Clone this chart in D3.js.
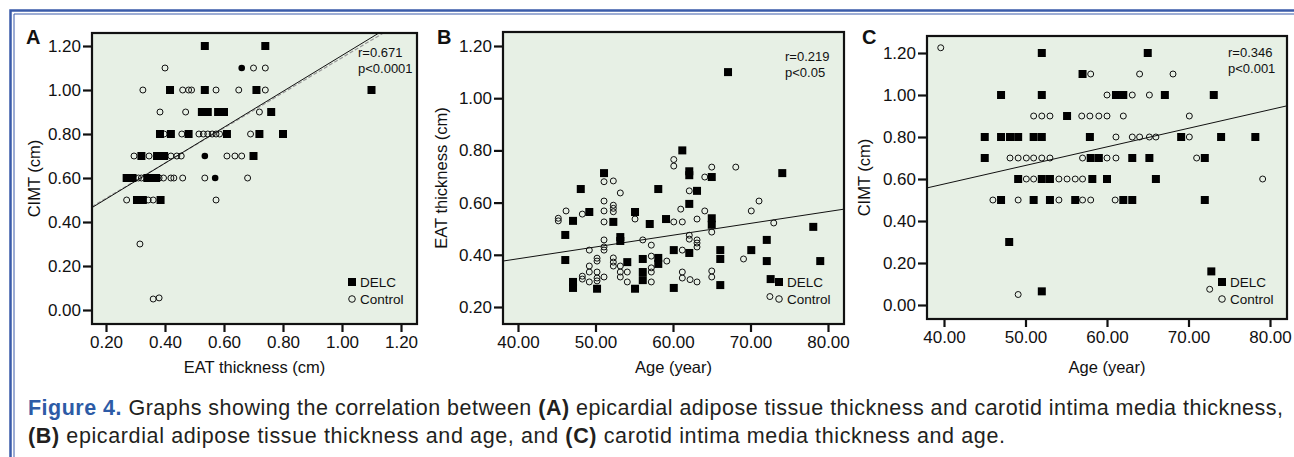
<!DOCTYPE html>
<html>
<head>
<meta charset="utf-8">
<script src="https://cdn.jsdelivr.net/npm/d3@7/dist/d3.min.js"></script>
<style>
  body { margin: 0; background: #fff; }
  svg { display: block; font-family: 'Liberation Sans', Arial, Helvetica, sans-serif; }
</style>
</head>
<body>
<svg id="chart" width="1294" height="457"></svg>
<script>
// ---- panel A : EAT thickness (x) vs CIMT (y)
let aDelc = [[0.535,1.2],[0.74,1.2],[0.417,1.0],[0.535,1.0],[0.71,1.0],[1.10,1.0],
  [0.525,0.9],[0.545,0.9],[0.58,0.9],[0.60,0.9],[0.76,0.9],
  [0.383,0.8],[0.42,0.8],[0.48,0.8],[0.61,0.8],[0.72,0.8],[0.80,0.8],
  [0.32,0.7],[0.373,0.7],[0.397,0.7],[0.70,0.7],
  [0.27,0.6],[0.29,0.6],[0.34,0.6],[0.355,0.6],[0.37,0.6],
  [0.305,0.5],[0.325,0.5],[0.385,0.5]]
let aControl = [[0.40,1.1],[0.70,1.1],[0.74,1.1],
  [0.325,1.0],[0.46,1.0],[0.48,1.0],[0.49,1.0],[0.573,1.0],[0.65,1.0],[0.74,1.0],
  [0.383,0.9],[0.47,0.9],[0.72,0.9],
  [0.397,0.8],[0.457,0.8],[0.515,0.8],[0.53,0.8],[0.545,0.8],[0.56,0.8],[0.573,0.8],[0.585,0.8],[0.69,0.8],
  [0.295,0.7],[0.346,0.7],[0.42,0.7],[0.44,0.7],[0.455,0.7],[0.61,0.7],[0.637,0.7],[0.66,0.7],
  [0.31,0.6],[0.32,0.6],[0.38,0.6],[0.395,0.6],[0.42,0.6],[0.43,0.6],[0.46,0.6],[0.535,0.6],[0.68,0.6],
  [0.27,0.5],[0.343,0.5],[0.36,0.5],[0.573,0.5],
  [0.315,0.3],[0.36,0.05],[0.38,0.055]]
let aBoth = [[0.66,1.1],[0.535,0.7],[0.57,0.6]]
let aFit = [0.341, 0.816]
let aFitDashed = [0.348, 0.799]
let aXTicks = [0.2, 0.4, 0.6, 0.8, 1.0, 1.2]
let aYTicks = [0.0, 0.2, 0.4, 0.6, 0.8, 1.0, 1.2]
let aStats = ['r=0.671', 'p<0.0001']

// ---- panel B : age (x) vs EAT thickness (y)
let bDelc = [[67.1,1.10],[61.2,0.80],[51.1,0.713],[62.1,0.72],[62.1,0.705],[65.0,0.698],[74.1,0.713],
  [48.1,0.652],[58.1,0.652],[63.1,0.645],[62.1,0.595],[49.2,0.564],[55.1,0.564],[47.1,0.53],
  [52.3,0.526],[57.0,0.518],[59.1,0.537],[65.0,0.54],[65.0,0.515],[78.1,0.507],[46.1,0.476],
  [72.1,0.457],[53.2,0.468],[53.2,0.453],[62.1,0.407],[60.1,0.418],[66.1,0.418],[70.1,0.418],
  [46.1,0.38],[54.1,0.372],[56.1,0.384],[58.1,0.388],[58.1,0.365],[66.1,0.384],[72.1,0.376],
  [79.0,0.376],[56.1,0.334],[56.1,0.303],[47.1,0.296],[47.1,0.273],[50.2,0.27],[55.1,0.27],
  [60.1,0.273],[66.1,0.284],[72.6,0.307]]
let bControl = [[60.1,0.765],[60.1,0.74],[65.0,0.736],[68.1,0.736],[51.1,0.68],[52.3,0.683],[53.2,0.637],
  [64.1,0.698],[62.1,0.645],[71.1,0.606],[51.1,0.606],[52.3,0.59],[52.3,0.578],[52.3,0.565],
  [46.2,0.568],[48.3,0.556],[51.1,0.568],[61.0,0.575],[64.1,0.568],[70.1,0.568],[45.2,0.54],
  [45.2,0.53],[51.1,0.526],[55.1,0.537],[60.1,0.526],[61.2,0.526],[63.1,0.537],[65.0,0.487],
  [73.0,0.522],[51.1,0.457],[56.1,0.457],[57.2,0.437],[62.1,0.475],[62.1,0.46],[63.1,0.457],
  [63.1,0.445],[63.1,0.43],[49.2,0.418],[51.1,0.43],[51.1,0.418],[61.2,0.418],[50.2,0.387],
  [50.2,0.376],[52.3,0.388],[52.3,0.372],[52.3,0.357],[53.2,0.357],[57.2,0.395],[59.2,0.376],
  [69.1,0.384],[49.2,0.357],[49.2,0.334],[50.2,0.334],[53.2,0.334],[54.1,0.334],[57.2,0.35],
  [57.2,0.334],[61.2,0.334],[65.0,0.338],[48.3,0.318],[48.3,0.307],[49.2,0.296],[50.2,0.311],
  [50.2,0.30],[51.1,0.315],[53.2,0.315],[54.1,0.296],[57.2,0.296],[61.2,0.311],[62.2,0.305],
  [63.1,0.296],[65.0,0.315],[72.5,0.24]]
let bFit = [0.204, 0.00452]
let bXTicks = [40, 50, 60, 70, 80]
let bYTicks = [0.2, 0.4, 0.6, 0.8, 1.0, 1.2]
let bStats = ['r=0.219', 'p<0.05']

// ---- panel C : age (x) vs CIMT (y)
let cDelc = [[52.0,1.2],[65.0,1.2],[57.0,1.1],[47.0,1.0],[52.0,1.0],[61.1,1.0],[62.0,1.0],[67.1,1.0],
  [73.1,1.0],[55.1,0.9],[45.0,0.8],[47.0,0.8],[48.1,0.8],[49.1,0.8],[51.0,0.8],[52.0,0.8],
  [57.9,0.8],[69.1,0.8],[74.0,0.8],[78.2,0.8],[45.0,0.7],[58.0,0.7],[59.0,0.7],[63.1,0.7],
  [65.2,0.7],[72.0,0.7],[49.1,0.6],[52.0,0.6],[53.0,0.6],[58.2,0.6],[60.0,0.6],[66.0,0.6],
  [47.0,0.5],[51.0,0.5],[53.0,0.5],[56.1,0.5],[62.0,0.5],[63.1,0.5],[72.0,0.5],[48.0,0.3],
  [72.8,0.16],[52.0,0.065]]
let cControl = [[39.6,1.225],[58.0,1.1],[64.0,1.1],[68.1,1.1],[60.0,1.0],[63.1,1.0],[65.2,1.0],
  [51.0,0.9],[52.0,0.9],[53.0,0.9],[56.9,0.9],[57.9,0.9],[59.0,0.9],[60.0,0.9],[62.0,0.9],
  [70.1,0.9],[61.1,0.8],[63.1,0.8],[64.0,0.8],[65.2,0.8],[66.0,0.8],[70.1,0.8],[48.1,0.7],
  [49.1,0.7],[50.1,0.7],[51.0,0.7],[52.0,0.7],[53.0,0.7],[57.0,0.7],[60.0,0.7],[61.1,0.7],
  [71.0,0.7],[50.1,0.6],[51.0,0.6],[54.1,0.6],[55.1,0.6],[56.1,0.6],[57.0,0.6],[79.1,0.6],
  [46.0,0.5],[49.1,0.5],[54.1,0.5],[57.0,0.5],[58.0,0.5],[61.0,0.5],[72.6,0.075],[49.1,0.05]]
let cFit = [0.222, 0.00885]
let cXTicks = [40, 50, 60, 70, 80]
let cYTicks = [0.0, 0.2, 0.4, 0.6, 0.8, 1.0, 1.2]
let cStats = ['r=0.346', 'p<0.001']

let legendLabels = ['DELC', 'Control']

let svg = d3.select('#chart')
let fmt = d3.format('.2f')

// figure frame (double blue rule, top and left)
let frameColor = '#3a5ba9'
svg.append('path').attr('d', 'M10.5,457 V10.5 H1294').attr('fill', 'none')
  .attr('stroke', frameColor).attr('stroke-width', 2.5)
svg.append('path').attr('d', 'M14,457 V14 H1294').attr('fill', 'none')
  .attr('stroke', frameColor).attr('stroke-width', 1)

let panels = [
  { letter: 'A', box: [92, 33, 417, 324], xDom: [0.2, 1.2], xRng: [106, 401], yDom: [0, 1.2], yRng: [310, 46],
    xTicks: aXTicks, yTicks: aYTicks, delc: aDelc, control: aControl, both: aBoth,
    fits: [{ c: aFitDashed, dashed: true }, { c: aFit }], stats: aStats, statsY: 52,
    xTitle: 'EAT thickness (cm)', yTitle: 'CIMT (cm)', yTitleX: 34, letterX: 26 },
  { letter: 'B', box: [503, 32, 844, 324], xDom: [40, 80], xRng: [518, 828], yDom: [0.2, 1.2], yRng: [307, 46],
    xTicks: bXTicks, yTicks: bYTicks, delc: bDelc, control: bControl, both: [],
    fits: [{ c: bFit }], stats: bStats, statsY: 56,
    xTitle: 'Age (year)', yTitle: 'EAT thickness (cm)', yTitleX: 441, letterX: 437 },
  { letter: 'C', box: [927, 36, 1287, 319], xDom: [40, 80], xRng: [944, 1270], yDom: [0, 1.2], yRng: [305, 53],
    xTicks: cXTicks, yTicks: cYTicks, delc: cDelc, control: cControl, both: [],
    fits: [{ c: cFit }], stats: cStats, statsY: 52,
    xTitle: 'Age (year)', yTitle: 'CIMT (cm)', yTitleX: 864, letterX: 862 }
]

let drawPanel = (p) => {
  let [l, t, r, b] = p.box
  let xScale = d3.scaleLinear().domain(p.xDom).range(p.xRng)
  let yScale = d3.scaleLinear().domain(p.yDom).range(p.yRng)
  let g = svg.append('g')

  g.append('rect').attr('x', l).attr('y', t).attr('width', r - l).attr('height', b - t)
    .attr('fill', '#e7f0e5')

  svg.append('clipPath').attr('id', 'clip' + p.letter)
    .append('rect').attr('x', l).attr('y', t).attr('width', r - l).attr('height', b - t)

  let inner = g.append('g').attr('clip-path', 'url(#clip' + p.letter + ')')

  // fit lines
  let x0 = xScale.invert(l), x1 = xScale.invert(r)
  p.fits.forEach((f) => {
    inner.append('line')
      .attr('x1', xScale(x0)).attr('y1', yScale(f.c[0] + f.c[1] * x0))
      .attr('x2', xScale(x1)).attr('y2', yScale(f.c[0] + f.c[1] * x1))
      .attr('stroke', f.dashed ? '#999' : '#111')
      .attr('stroke-width', f.dashed ? 1.2 : 1)
      .attr('stroke-dasharray', f.dashed ? '4,2' : null)
  })

  // control : open circles
  inner.selectAll('circle.control').data(p.control).enter()
    .append('circle').attr('class', 'control')
    .attr('cx', (d) => xScale(d[0])).attr('cy', (d) => yScale(d[1]))
    .attr('r', 3).attr('fill', 'none').attr('stroke', '#111').attr('stroke-width', 1)

  // DELC : filled squares
  inner.selectAll('rect.delc').data(p.delc).enter()
    .append('rect').attr('class', 'delc')
    .attr('x', (d) => xScale(d[0]) - 4).attr('y', (d) => yScale(d[1]) - 4)
    .attr('width', 8).attr('height', 8).attr('fill', '#000')

  // overlapping markers
  inner.selectAll('circle.both').data(p.both).enter()
    .append('circle').attr('class', 'both')
    .attr('cx', (d) => xScale(d[0])).attr('cy', (d) => yScale(d[1]))
    .attr('r', 3.3).attr('fill', '#000')

  g.append('rect').attr('x', l).attr('y', t).attr('width', r - l).attr('height', b - t)
    .attr('fill', 'none').attr('stroke', '#111').attr('stroke-width', 2.2)

  // axes
  let yAxis = d3.axisLeft(yScale).tickValues(p.yTicks).tickFormat(fmt).tickSize(9).tickPadding(2)
  let xAxis = d3.axisBottom(xScale).tickValues(p.xTicks).tickFormat(fmt).tickSize(7).tickPadding(4)

  let ya = g.append('g').attr('transform', 'translate(' + l + ',0)').call(yAxis)
  let xa = g.append('g').attr('transform', 'translate(0,' + (b + 1) + ')').call(xAxis)
  ;[ya, xa].forEach((a) => {
    a.select('.domain').remove()
    a.selectAll('line').attr('stroke', '#111').attr('stroke-width', 2.2)
    a.selectAll('text').attr('fill', '#111').style('font-size', '17px')
      .style('font-family', "'Liberation Sans', Arial, sans-serif")
  })

  // titles
  g.append('text').attr('x', (l + r) / 2).attr('y', 373).attr('text-anchor', 'middle')
    .style('font-size', '16.5px').attr('fill', '#111').text(p.xTitle)
  g.append('text').attr('transform', 'translate(' + (p.yTitleX + 6) + ',' + ((t + b) / 2) + ') rotate(-90)')
    .attr('text-anchor', 'middle').style('font-size', '16.5px').attr('fill', '#111').text(p.yTitle)

  g.append('text').attr('x', p.letterX).attr('y', 44).style('font-size', '20px')
    .style('font-weight', 'bold').attr('fill', '#111').text(p.letter)

  // r / p text
  g.append('text').attr('x', r - 59).attr('y', p.statsY + 5).style('font-size', '13px')
    .attr('fill', '#111').text(p.stats[0])
  g.append('text').attr('x', r - 59).attr('y', p.statsY + 21).style('font-size', '13px')
    .attr('fill', '#111').text(p.stats[1])

  // legend
  let lx = r - 65
  g.append('rect').attr('x', lx - 4).attr('y', 278).attr('width', 8).attr('height', 8).attr('fill', '#000')
  g.append('circle').attr('cx', lx).attr('cy', 299).attr('r', 3.3)
    .attr('fill', 'none').attr('stroke', '#111').attr('stroke-width', 1)
  legendLabels.forEach((lab, i) => {
    g.append('text').attr('x', lx + 8).attr('y', 287 + i * 17).style('font-size', '13.5px')
      .attr('fill', '#111').text(lab)
  })
}

panels.forEach(drawPanel)

// caption, spread to the line widths of the printed figure
let cap = svg.append('g').style('font-size', '21.5px').attr('fill', '#231f20')
let line1 = cap.append('text').attr('x', 28).attr('y', 415)
line1.append('tspan').attr('fill', '#2d5ba6').style('font-weight', 'bold').text('Figure 4.')
line1.append('tspan').text(' Graphs showing the correlation between ')
line1.append('tspan').style('font-weight', 'bold').text('(A)')
line1.append('tspan').text(' epicardial adipose tissue thickness and carotid intima media thickness,')
let line2 = cap.append('text').attr('x', 28).attr('y', 443)
line2.append('tspan').style('font-weight', 'bold').text('(B)')
line2.append('tspan').text(' epicardial adipose tissue thickness and age, and ')
line2.append('tspan').style('font-weight', 'bold').text('(C)')
line2.append('tspan').text(' carotid intima media thickness and age.')

let spread = (sel, target) => {
  let n = sel.text().length
  let w = sel.node().getComputedTextLength()
  sel.style('letter-spacing', ((target - w) / (n - 1)) + 'px')
}
spread(line1, 1255)
spread(line2, 977)
</script>
</body>
</html>
